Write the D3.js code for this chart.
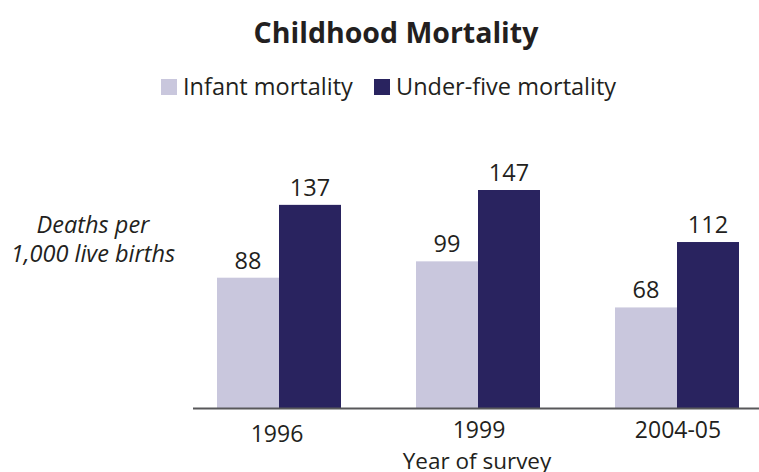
<!DOCTYPE html>
<html lang="en">
<head>
<meta charset="utf-8">
<title>Childhood Mortality</title>
<script src="https://cdn.jsdelivr.net/npm/d3@7"></script>
<style>
  body { margin: 0; background: #fff; }
  text { font-family: "Open Sans", sans-serif; fill: #231f20; }
</style>
</head>
<body>
<script>
// data
var years = ["1996", "1999", "2004-05"];
var seriesNames = ["Infant mortality", "Under-five mortality"];
var infant = [88, 99, 68];
var underFive = [137, 147, 112];
var colors = ["#c9c7dd", "#29235f"];

var w = 759, h = 472;
var baseY = 408.5;

var svg = d3.select("body").append("svg")
  .attr("width", w)
  .attr("height", h);

// title
svg.append("text")
  .attr("x", 396).attr("y", 43)
  .attr("text-anchor", "middle")
  .attr("font-size", "28.5px")
  .attr("font-weight", "bold")
  .text("Childhood Mortality");

// legend
var legendX = [161, 374];
var legend = svg.selectAll(".legend")
  .data(seriesNames)
  .enter().append("g")
  .attr("class", "legend")
  .attr("transform", function(d, i) { return "translate(" + legendX[i] + ",79)"; });
legend.append("rect")
  .attr("width", 16).attr("height", 16)
  .attr("fill", function(d, i) { return colors[i]; });
legend.append("text")
  .attr("x", 22).attr("y", 16)
  .attr("font-size", "23.5px")
  .text(function(d) { return d; });

// scales
var x0 = d3.scaleBand()
  .domain(years)
  .range([217, 739])
  .paddingInner(75 / 199)
  .paddingOuter(0);
var x1 = d3.scaleBand()
  .domain([0, 1])
  .range([0, x0.bandwidth()]);
var y = d3.scaleLinear()
  .domain([0, 147])
  .range([baseY, 190]);

var rows = years.map(function(yr, i) {
  return { year: yr, values: [infant[i], underFive[i]] };
});

var groups = svg.selectAll(".grp")
  .data(rows)
  .enter().append("g")
  .attr("class", "grp")
  .attr("transform", function(d) { return "translate(" + x0(d.year) + ",0)"; });

groups.selectAll("rect")
  .data(function(d) { return d.values; })
  .enter().append("rect")
  .attr("x", function(d, i) { return x1(i); })
  .attr("y", function(d) { return y(d); })
  .attr("width", x1.bandwidth())
  .attr("height", function(d) { return baseY - y(d); })
  .attr("fill", function(d, i) { return colors[i]; });

groups.selectAll(".val")
  .data(function(d) { return d.values; })
  .enter().append("text")
  .attr("class", "val")
  .attr("x", function(d, i) { return x1(i) + x1.bandwidth() / 2; })
  .attr("y", function(d) { return y(d) - 9; })
  .attr("text-anchor", "middle")
  .attr("font-size", "23.5px")
  .text(function(d) { return d; });

// x axis
var xAxis = svg.append("g")
  .attr("transform", "translate(0," + baseY + ")")
  .call(d3.axisBottom(x0).tickSize(0).tickPadding(0));
xAxis.select(".domain").remove();
xAxis.append("line")
  .attr("x1", 193).attr("x2", 759)
  .attr("stroke", "#58585a").attr("stroke-width", 2);
xAxis.selectAll(".tick text")
  .attr("dy", 0)
  .attr("y", function(d, i) { return i === 0 ? 33 : 29; })
  .attr("dx", function(d, i) { return i === 0 ? -2 : 1; })
  .attr("font-size", "23px")
  .style("font-family", "Open Sans, sans-serif")
  .attr("fill", "#231f20");

svg.append("text")
  .attr("x", 477).attr("y", 469)
  .attr("text-anchor", "middle")
  .attr("font-size", "22.5px")
  .text("Year of survey");

// y label
var yLab = svg.append("text")
  .attr("text-anchor", "middle")
  .attr("font-size", "23.5px")
  .attr("font-style", "italic");
yLab.append("tspan").attr("x", 93).attr("y", 233).text("Deaths per");
yLab.append("tspan").attr("x", 93).attr("y", 262).text("1,000 live births");
</script>
</body>
</html>
